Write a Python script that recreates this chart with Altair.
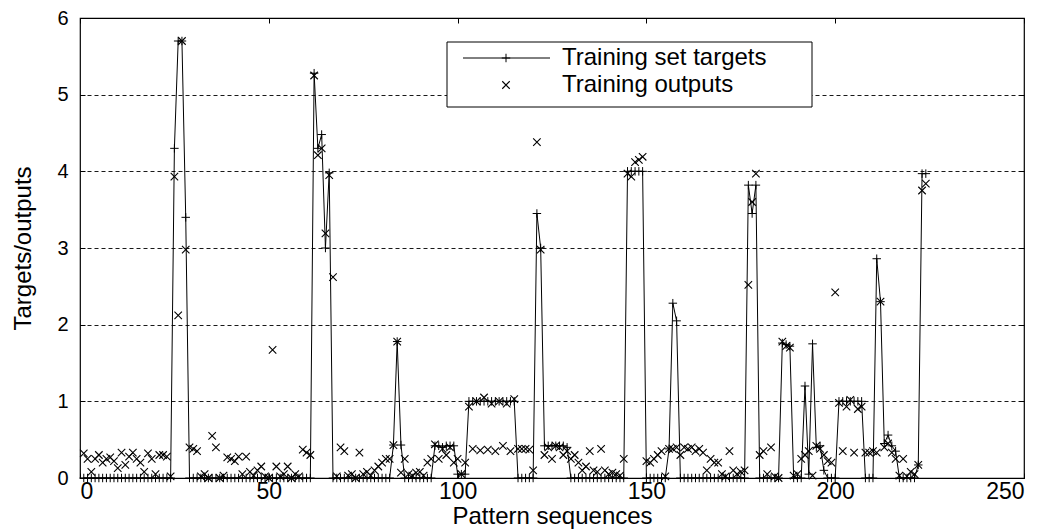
import altair as alt
import pandas as pd

# ---------------- data ----------------
seq = list(range(1, 225))

targets = [
    0, 0, 0, 0, 0, 0, 0, 0, 0, 0,
    0, 0, 0, 0, 0, 0, 0, 0, 0, 0,
    0, 0, 0, 0, 4.3, 5.7, 5.7, 3.4, 0, 0,
    0, 0, 0, 0, 0, 0, 0, 0, 0, 0,
    0, 0, 0, 0, 0, 0, 0, 0, 0, 0,
    0, 0, 0, 0, 0, 0, 0, 0, 0, 0,
    0, 5.28, 4.3, 4.48, 3.0, 3.98, 0, 0, 0, 0,
    0, 0, 0, 0, 0, 0, 0, 0, 0, 0,
    0, 0, 0.43, 1.78, 0.43, 0, 0, 0, 0, 0,
    0, 0, 0, 0.42, 0.42, 0.4, 0.42, 0.42, 0.42, 0.05,
    0.05, 0.05, 1, 1, 1, 1, 1, 1, 1, 1,
    1, 1, 1, 1, 1, 0, 0, 0, 0, 0,
    3.45, 3.0, 0.42, 0.42, 0.42, 0.42, 0.42, 0.42, 0.4, 0,
    0, 0, 0, 0, 0, 0, 0, 0, 0, 0,
    0, 0, 0, 0, 4, 4, 4, 4, 4, 0,
    0, 0, 0, 0, 0, 0.38, 2.28, 2.05, 0, 0,
    0, 0, 0, 0, 0, 0, 0, 0, 0, 0,
    0, 0, 0, 0, 0, 0, 3.82, 3.45, 3.82, 0,
    0, 0, 0, 0, 0, 1.76, 1.74, 1.72, 0, 0,
    0, 1.2, 0.05, 1.75, 0.4, 0.42, 0.1, 0, 0, 0,
    1, 1, 1, 1, 1, 1, 1, 0, 0, 0,
    2.86, 2.3, 0.45, 0.56, 0.42, 0.35, 0, 0, 0, 0,
    0, 0.17, 3.97, 3.97,
]

outputs = [
    0.32, 0.25, 0.08, 0.25, 0.3, 0.2, 0.25, 0.27, 0.22, 0.13,
    0.33, 0.17, 0.28, 0.33, 0.25, 0.2, 0.08, 0.32, 0.25, 0.05,
    0.3, 0.3, 0.28, 0.02, 3.93, 2.12, 5.7, 2.98, 0.4, 0.38,
    0.35, 0.02, 0.05, 0.0, 0.55, 0.4, 0.0, 0.03, 0.27, 0.25,
    0.22, 0.28, 0.05, 0.28, 0.08, 0.03, 0.1, 0.15, 0.02, 0.0,
    1.67, 0.15, 0.02, 0.05, 0.15, 0.0, 0.05, 0.02, 0.37, 0.33,
    0.3, 5.25, 4.21, 4.3, 3.19, 3.95, 2.62, 0.02, 0.4, 0.35,
    0.03, 0.05, 0.0, 0.33, 0.05, 0.08, 0.03, 0.1, 0.15, 0.2,
    0.25, 0.25, 0.43, 1.78, 0.07, 0.25, 0.05, 0.03, 0.07, 0.08,
    0.03, 0.2, 0.25, 0.44, 0.25, 0.38, 0.3, 0.4, 0.2, 0.25,
    0.05, 0.2, 0.93, 0.38, 1.0, 0.36, 1.05, 0.37, 0.97, 0.35,
    1.0, 0.42, 0.97, 0.35, 1.03, 0.38, 0.38, 0.38, 0.37, 0.1,
    4.38, 2.98, 0.3, 0.4, 0.25, 0.42, 0.4, 0.3, 0.35, 0.25,
    0.3, 0.2, 0.1, 0.15, 0.35, 0.1, 0.08, 0.38, 0.1, 0.05,
    0.07, 0.05, 0.03, 0.25, 3.97, 3.93, 4.12, 4.15, 4.19, 0.22,
    0.2, 0.25, 0.3, 0.35, 0.02, 0.38, 0.38, 0.4, 0.3, 0.4,
    0.38, 0.4, 0.35, 0.38, 0.33, 0.1, 0.25, 0.2, 0.2, 0.05,
    0.02, 0.35, 0.1, 0.05, 0.08, 0.1, 2.52, 3.6, 3.97, 0.3,
    0.35, 0.05, 0.4, 0.02, 0.0, 1.78, 1.72, 1.7, 0.03, 0.05,
    0.25, 0.3, 0.35, 0.03, 0.42, 0.38, 0.3, 0.22, 0.2, 2.42,
    0.98, 0.35, 0.93, 1.02, 0.33, 0.9, 0.93, 0.33, 0.33, 0.35,
    0.33, 2.3, 0.4, 0.45, 0.33, 0.25, 0.03, 0.25, 0.02, 0.08,
    0.05, 0.17, 3.75, 3.84,
]

x_ticks = [0, 50, 100, 150, 200, 250]
y_ticks = [0, 1, 2, 3, 4, 5, 6]
legend_labels = ["Training set targets", "Training outputs"]
x_title = "Pattern sequences"
y_title = "Targets/outputs"

# ---------------- chart ----------------
df = pd.DataFrame({"seq": seq, "target": targets, "output": outputs})
one = pd.DataFrame({"k": [0]})

FONT = "Liberation Sans"
PLUS = "M-1,0L1,0M0,-1L0,1"
CROSS = "M-1,-1L1,1M-1,1L1,-1"

W, H = 944, 460
xs = alt.Scale(domain=[0, 250], nice=False, zero=False)
ys = alt.Scale(domain=[0, 6], nice=False)

base = alt.Chart(df)

line = base.mark_line(color="black", strokeWidth=1).encode(
    x=alt.X("seq:Q", scale=xs, axis=alt.Axis(
        orient="bottom", values=x_ticks, offset=-5, tickSize=5, tickColor="black",
        domain=False, grid=False, labelFontSize=23, labelFont=FONT, labelColor="black",
        labelPadding=2, title=x_title, titleFont=FONT, titleFontSize=24,
        titleFontWeight="normal", titleColor="black", titleY=43,
        titleBaseline="middle")),
    y=alt.Y("target:Q", scale=ys, axis=alt.Axis(
        orient="left", values=y_ticks, offset=-5, tickSize=5, tickColor="black",
        domain=False, grid=True, gridDash=[4, 3], gridColor="black", gridOpacity=0.9,
        labelFontSize=20, labelFont=FONT, labelColor="black", labelPadding=12,
        title=y_title, titleFont=FONT, titleFontSize=24, titleFontWeight="normal",
        titleColor="black", titleX=-62, titleBaseline="middle")),
)

tpts = base.mark_point(shape=PLUS, size=72, filled=False, stroke="black",
                       strokeWidth=1, opacity=1).encode(
    x=alt.X("seq:Q", scale=xs, axis=None),
    y=alt.Y("target:Q", scale=ys, axis=None),
)

opts = base.mark_point(shape=CROSS, size=56, filled=False, stroke="black",
                       strokeWidth=1.1, opacity=1).encode(
    x=alt.X("seq:Q", scale=xs, axis=alt.Axis(
        orient="top", values=x_ticks, offset=-5, tickSize=5, tickColor="black",
        domain=False, grid=False, labels=False, title=None)),
    y=alt.Y("output:Q", scale=ys, axis=alt.Axis(
        orient="right", values=y_ticks, offset=-5, tickSize=5, tickColor="black",
        domain=False, grid=False, labels=False, title=None)),
)

# legend (drawn as a box inside the plot)
lg = alt.Chart(one)
lbox = lg.mark_rect(fill="white", stroke="black", strokeWidth=1).encode(
    x=alt.value(367), x2=alt.value(732), y=alt.value(24), y2=alt.value(89))
lline = lg.mark_rule(color="black", strokeWidth=1).encode(
    x=alt.value(383), x2=alt.value(470), y=alt.value(40))
lplus = lg.mark_point(shape=PLUS, size=72, filled=False, stroke="black",
                      strokeWidth=1, opacity=1).encode(x=alt.value(426), y=alt.value(40))
lcross = lg.mark_point(shape=CROSS, size=56, filled=False, stroke="black",
                       strokeWidth=1.1, opacity=1).encode(x=alt.value(426), y=alt.value(67))
ltext1 = lg.mark_text(align="left", baseline="middle", font=FONT, fontSize=24,
                      color="black").encode(x=alt.value(482), y=alt.value(40),
                                            text=alt.value(legend_labels[0]))
ltext2 = lg.mark_text(align="left", baseline="middle", font=FONT, fontSize=24,
                      color="black").encode(x=alt.value(482), y=alt.value(67),
                                            text=alt.value(legend_labels[1]))

chart = alt.layer(line, tpts, opts, lbox, lline, lplus, lcross, ltext1, ltext2).resolve_axis(
    x="independent", y="independent"
).properties(
    width=W, height=H,
    autosize=alt.AutoSizeParams(type="none"),
    padding={"left": 72, "top": 10, "right": 15, "bottom": 52},
    background="white",
).configure_view(stroke="black", strokeWidth=1.2)

chart.save("out.html", embed_options={"renderer": "svg", "actions": False})
